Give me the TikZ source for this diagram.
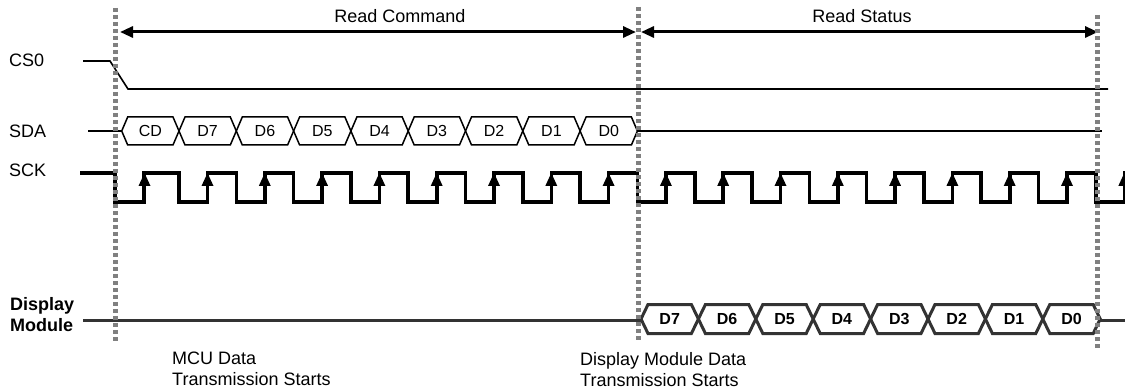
\documentclass[tikz,border=0pt]{standalone}
\usepackage{fontspec}
\setmainfont{Liberation Sans}
\usetikzlibrary{arrows.meta}

\begin{document}
\begin{tikzpicture}[x=1pt,y=-1pt,
	sig/.style={line width=1.6pt},
	clk/.style={line width=3.6pt,line join=miter},
	bus/.style={line width=1.5pt},
	dmbus/.style={line width=3pt,black!80},
	marker/.style={line width=5pt,black!50,dash pattern=on 4pt off 3pt},
	span/.style={line width=3pt,{Triangle[length=13pt,width=11pt]}-{Triangle[length=13pt,width=11pt]}},
	lbl/.style={font=\fontsize{18}{21}\selectfont,inner sep=0pt},
	cell/.style={font=\fontsize{16}{18}\selectfont,inner sep=0pt}]
	
	\useasboundingbox (0,0) rectangle (1125,390);
	
	% signal names
	\node[lbl,anchor=base west] (lblCS) at (9,67) {CS0};
	\node[lbl,anchor=base west] (lblSDA) at (9,138) {SDA};
	\node[lbl,anchor=base west] (lblSCK) at (9,177) {SCK};
	\node[lbl,anchor=north west,align=left,font=\fontsize{18}{21}\selectfont\bfseries] (lblDM) at (10,297) {Display\\Module};
	
	% phases
	\coordinate (rcL) at (120,32);
	\coordinate (rcR) at (636,32);
	\coordinate (rsL) at (641,32);
	\coordinate (rsR) at (1098,32);
	\draw[span] (rcL) -- (rcR);
	\draw[span] (rsL) -- (rsR);
	\node[lbl,anchor=base] (txtRC) at (400,23) {Read Command};
	\node[lbl,anchor=base] (txtRS) at (862,23) {Read Status};
	
	% CS0
	\draw[sig] (83,61) -- (110,61) -- (128,89) -- (1108,89);
	
	% SDA
	\draw[bus] (88,131) -- (121.7,131);
	\foreach \t [count=\i from 0] in {CD,D7,D6,D5,D4,D3,D2,D1,D0}{
		\pgfmathsetmacro\xa{121.7+57.3*\i}
		\draw[bus] (\xa,131) -- ++(6,-14) -- ++(45.3,0) -- ++(6,14) -- ++(-6,14) -- ++(-45.3,0) -- cycle;
		\node[cell] (sda\i) at (\xa+28.65,131) {\t};
	}
	\draw[bus] (637.4,131) -- (1102,131);
	
	% SCK
	\draw[clk] (80,173) -- (115,173) -- (115,202) -- (144,202) -- (144,173) -- (179,173)
		\foreach \k in {0,...,16}{ -- ++(0,29) -- ++(28.5,0) -- ++(0,-29) -- ++(28.8,0) };
	\fill (138.5,186) -- ++(12,0) -- ++(-6,-13) -- cycle;
	\foreach \k in {0,...,16}
		\fill ({201.5+57.3*\k},186) -- ++(12,0) -- ++(-6,-13) -- cycle;
	
	% display module
	\draw[dmbus] (83,320) -- (641,320);
	\foreach \t [count=\i from 0] in {D7,D6,D5,D4,D3,D2,D1,D0}{
		\pgfmathsetmacro\xa{641+57.4*\i}
		\draw[dmbus,line join=miter] (\xa,319) -- ++(7,-14.5) -- ++(43.4,0) -- ++(7,14.5) -- ++(-7,14.5) -- ++(-43.4,0) -- cycle;
		\node[cell,font=\fontsize{16}{18}\selectfont\bfseries] (dm\i) at (\xa+28.7,319) {\t};
	}
	\draw[dmbus] (1100.2,320) -- (1125,320);
	
	% start markers
	\coordinate (m0) at (115,8);
	\coordinate (m1) at (638,7);
	\coordinate (m2) at (1097,15);
	\draw[marker] (m0) -- (115,343);
	\draw[marker] (m1) -- (638,342);
	\draw[marker] (m2) -- (1097,350);
	
	\node[lbl,anchor=north west,align=left] (txtMCU) at (172,352) {MCU Data\\Transmission Starts};
	\node[lbl,anchor=north west,align=left] (txtDMS) at (580,352) {Display Module Data\\Transmission Starts};
	
\end{tikzpicture}
\end{document}
